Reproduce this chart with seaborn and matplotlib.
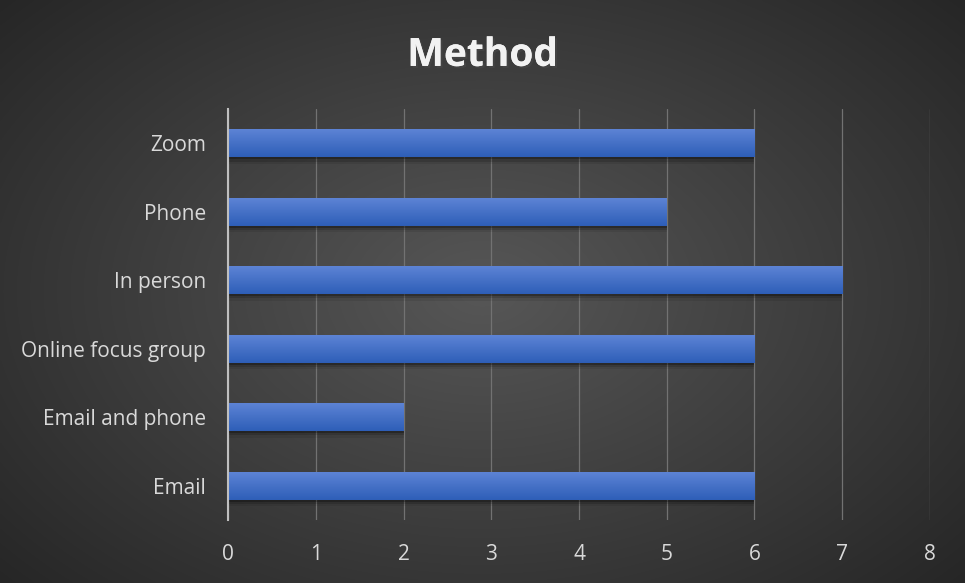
import matplotlib
matplotlib.use('Agg')
import matplotlib.pyplot as plt
import matplotlib.patheffects as pe
import numpy as np
import pandas as pd
import seaborn as sns

# data
methods = ['Zoom', 'Phone', 'In person', 'Online focus group', 'Email and phone', 'Email']
counts = [6, 5, 7, 6, 2, 6]
x_ticks = [0, 1, 2, 3, 4, 5, 6, 7, 8]

df = pd.DataFrame({'method': methods, 'count': counts})

sns.set_theme(style='dark')
plt.rcParams['font.family'] = ['Open Sans', 'DejaVu Sans']

fig = plt.figure(figsize=(9.65, 5.83), dpi=100)

# radial gradient background over the whole figure
bg = fig.add_axes([0, 0, 1, 1], zorder=-10)
yy, xx = np.mgrid[-1:1:300j, -1:1:500j]
r = np.sqrt((xx / 1.0) ** 2 + (yy / 1.1) ** 2)
r = np.clip(r / 1.35, 0, 1)
shade = 0.34 - 0.19 * r
img = np.dstack([shade, shade, shade])
bg.imshow(img, extent=[0, 1, 0, 1], aspect='auto', interpolation='bilinear')
bg.set_axis_off()

ax = fig.add_axes([0.2363, 0.108, 0.7274, 0.7048])
ax.patch.set_alpha(0)
sns.barplot(data=df, y='method', x='count', orient='h', color='#4472c4',
            width=0.41, linewidth=0, ax=ax, zorder=3)

ax.set_xlim(0, 8)
ax.set_ylim(5.5, -0.5)
ax.set_xticks(x_ticks)
ax.set_xlabel('')
ax.set_ylabel('')
ax.grid(axis='x', color='#727272', linewidth=0.9, zorder=0)
ax.grid(axis='y', visible=False)
for s in ['top', 'right', 'bottom']:
    ax.spines[s].set_visible(False)
ax.spines['left'].set_color('#bfbfbf')
ax.spines['left'].set_linewidth(1.5)
ax.spines['left'].set_zorder(5)
ax.tick_params(axis='both', length=0, labelsize=15, colors='#d9d9d9')
ax.tick_params(axis='y', pad=16)
ax.tick_params(axis='x', pad=17)

# vertical gradient + soft shadow on each bar
grad = np.linspace(0, 1, 64).reshape(-1, 1)
top = np.array([0.37, 0.52, 0.84])
bot = np.array([0.18, 0.37, 0.72])
grad_img = top + (bot - top) * grad[:, :, None]
for p in list(ax.patches):
    x0, y0 = p.get_x(), p.get_y()
    w, h = p.get_width(), p.get_height()
    for k, a in [(0.02, 0.25), (0.05, 0.15), (0.08, 0.08)]:
        sh = plt.Rectangle((x0, y0 + 0.01), w, h + k, color='black',
                           alpha=a, zorder=2, linewidth=0)
        ax.add_patch(sh)
    im = ax.imshow(grad_img, extent=[x0, x0 + w, y0 + h, y0], aspect='auto',
                   zorder=4, interpolation='bilinear')
    im.set_clip_path(p)
ax.set_xlim(0, 8)
ax.set_ylim(5.5, -0.5)

title = fig.text(0.5, 0.905, 'Method', ha='center', va='center', fontsize=28,
                 fontweight='bold', color='#f2f2f2',
                 path_effects=[pe.withSimplePatchShadow(offset=(1.5, -1.5), alpha=0.6),
                               pe.Normal()])

fig.savefig('out.png', dpi=100, facecolor='#2b2b2b')
